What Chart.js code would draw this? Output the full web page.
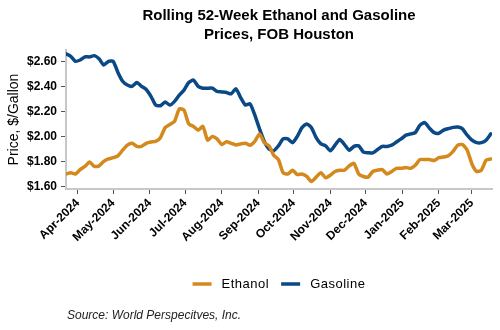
<!DOCTYPE html>
<html>
<head>
<meta charset="utf-8">
<script src="https://cdn.jsdelivr.net/npm/chart.js@4/dist/chart.umd.min.js"></script>
<style>
  body{margin:0;background:#fff}
</style>
</head>
<body>
<canvas id="chart" width="500" height="330"></canvas>
<script>
// ===== DATA =====
const startDate = "2024-03-22"
const endDate = "2025-03-18"

const dates = [
 "2024-03-22","2024-03-26","2024-03-30","2024-04-03","2024-04-07","2024-04-11","2024-04-15","2024-04-19","2024-04-23","2024-04-27",
 "2024-05-01","2024-05-05","2024-05-09","2024-05-13","2024-05-17","2024-05-21","2024-05-25","2024-05-29",
 "2024-06-02","2024-06-06","2024-06-10","2024-06-14","2024-06-18","2024-06-22","2024-06-26","2024-06-30",
 "2024-07-04","2024-07-08","2024-07-12","2024-07-16","2024-07-20","2024-07-24","2024-07-28",
 "2024-08-01","2024-08-05","2024-08-09","2024-08-13","2024-08-17","2024-08-21","2024-08-25","2024-08-29",
 "2024-09-02","2024-09-06","2024-09-10","2024-09-14","2024-09-18","2024-09-22","2024-09-26","2024-09-30",
 "2024-10-04","2024-10-08","2024-10-12","2024-10-16","2024-10-20","2024-10-24","2024-10-28",
 "2024-11-01","2024-11-05","2024-11-09","2024-11-13","2024-11-17","2024-11-21","2024-11-25","2024-11-29",
 "2024-12-03","2024-12-07","2024-12-11","2024-12-15","2024-12-19","2024-12-23","2024-12-27","2024-12-31",
 "2025-01-04","2025-01-08","2025-01-12","2025-01-16","2025-01-20","2025-01-24","2025-01-28",
 "2025-02-01","2025-02-05","2025-02-09","2025-02-13","2025-02-17","2025-02-21","2025-02-25",
 "2025-03-01","2025-03-05","2025-03-09","2025-03-13","2025-03-17"
]

const ethanol = [
 1.70,1.71,1.70,1.735,1.76,1.795,1.76,1.765,1.80,1.82,
 1.83,1.845,1.89,1.93,1.945,1.92,1.92,1.945,
 1.955,1.96,1.99,2.07,2.095,2.12,2.22,2.21,
 2.10,2.08,2.05,2.08,1.97,2.00,1.98,
 1.935,1.958,1.945,1.932,1.94,1.945,1.93,1.96,
 2.02,1.95,1.925,1.85,1.815,1.71,1.70,1.73,
 1.695,1.70,1.68,1.64,1.675,1.71,1.67,
 1.69,1.72,1.73,1.73,1.765,1.785,1.70,1.68,
 1.675,1.72,1.73,1.735,1.70,1.72,1.745,1.745,
 1.752,1.745,1.77,1.815,1.815,1.815,1.808,
 1.83,1.835,1.845,1.88,1.93,1.935,1.89,
 1.78,1.72,1.73,1.81,1.82
]

const gasoline = [
 2.66,2.64,2.60,2.61,2.635,2.635,2.645,2.62,2.57,2.60,
 2.60,2.51,2.44,2.41,2.40,2.43,2.40,2.375,
 2.32,2.25,2.245,2.275,2.25,2.28,2.33,2.37,
 2.43,2.45,2.40,2.385,2.385,2.385,2.36,
 2.355,2.35,2.34,2.38,2.31,2.25,2.26,2.17,
 2.06,1.96,1.90,1.885,1.925,1.98,1.98,1.95,
 2.00,2.07,2.10,2.07,1.99,1.94,1.925,
 1.885,1.93,1.975,1.935,1.89,1.92,1.925,1.875,
 1.87,1.868,1.895,1.92,1.92,1.93,1.955,1.98,
 2.01,2.02,2.03,2.09,2.11,2.065,2.03,
 2.025,2.05,2.062,2.072,2.075,2.06,2.01,
 1.97,1.95,1.95,1.97,2.02
]

const monthTicks = ["2024-04-01","2024-05-01","2024-06-01","2024-07-01","2024-08-01","2024-09-01",
 "2024-10-01","2024-11-01","2024-12-01","2025-01-01","2025-02-01","2025-03-01"]
const monthLabels = ["Apr-2024","May-2024","Jun-2024","Jul-2024","Aug-2024","Sep-2024",
 "Oct-2024","Nov-2024","Dec-2024","Jan-2025","Feb-2025","Mar-2025"]
const yTicks = [1.6,1.8,2.0,2.2,2.4,2.6]

const titleLines = ["Rolling 52-Week Ethanol and Gasoline","Prices, FOB Houston"]
const sourceText = "Source: World Perspecitves, Inc."

const ETH_COLOR = "#D4891C"
const GAS_COLOR = "#0B4886"
const FONT = '"Liberation Sans", Arial, sans-serif'

function dayOf(s){
  return (Date.parse(s) - Date.parse(startDate)) / 86400000
}

// ===== TITLE / LEGEND / SOURCE =====
const extras = {
  id:"extras",
  afterDraw(chart){
    let ctx = chart.ctx
    let a = chart.chartArea
    let cx = (a.left + a.right) / 2
    ctx.save()
    ctx.fillStyle = "#000"
    ctx.textAlign = "center"
    ctx.textBaseline = "middle"
    ctx.font = "bold 15px " + FONT
    ctx.fillText(titleLines[0], cx, 16)
    ctx.fillText(titleLines[1], cx, 35)

    // legend
    ctx.font = "13px " + FONT
    ctx.letterSpacing = "0.5px"
    let items = [["Ethanol", ETH_COLOR], ["Gasoline", GAS_COLOR]]
    let lineW = 19, gap = 10, between = 12
    let total = 0
    items.forEach(function(it, i){
      total += lineW + gap + ctx.measureText(it[0]).width + (i < items.length - 1 ? between : 0)
    })
    let x = cx - total / 2
    let y = 284
    ctx.textAlign = "left"
    items.forEach(function(it){
      ctx.strokeStyle = it[1]
      ctx.lineWidth = 3.5
      ctx.beginPath()
      ctx.moveTo(x, y); ctx.lineTo(x + lineW, y)
      ctx.stroke()
      x += lineW + gap
      ctx.fillStyle = "#000"
      ctx.fillText(it[0], x, y)
      x += ctx.measureText(it[0]).width + between
    })
    ctx.letterSpacing = "0px"

    // source
    ctx.font = "italic 12px " + FONT
    ctx.fillStyle = "#222"
    ctx.fillText(sourceText, a.left + 1, 316)
    ctx.restore()
  }
}

// ===== CHART =====
let ctx = document.getElementById("chart")

let chart = new Chart(ctx, {
  type:"line",
  data:{
    datasets:[
      {
        label:"Ethanol",
        data: dates.map((d,i) => ({x: dayOf(d), y: ethanol[i]})),
        borderColor: ETH_COLOR,
        borderWidth: 3.5,
        pointRadius: 0,
        tension: 0.2,
        borderJoinStyle: "round",
        borderCapStyle: "round",
        fill:false
      },
      {
        label:"Gasoline",
        data: dates.map((d,i) => ({x: dayOf(d), y: gasoline[i]})),
        borderColor: GAS_COLOR,
        borderWidth: 3.5,
        pointRadius: 0,
        tension: 0.2,
        borderJoinStyle: "round",
        borderCapStyle: "round",
        fill:false
      }
    ]
  },
  options:{
    responsive:false,
    animation:false,
    layout:{ padding:{ top:50, left:5, right:8, bottom:0 } },
    plugins:{
      legend:{ display:false },
      tooltip:{ enabled:false }
    },
    scales:{
      x:{
        type:"linear",
        min: 0,
        max: dayOf(endDate),
        afterBuildTicks: function(axis){
          axis.ticks = monthTicks.map(d => ({value: dayOf(d)}))
        },
        afterFit: function(scale){ scale.height = 141 },
        grid:{ drawOnChartArea:false, color:"#555", lineWidth:1, tickLength:5 },
        border:{ color:"#c8c8c8", width:2 },
        ticks:{
          autoSkip:false,
          maxRotation:45,
          minRotation:45,
          padding:2,
          color:"#000",
          font:{ family: FONT, size:12, weight:"bold" },
          callback: function(v, i){ return monthLabels[i] }
        }
      },
      y:{
        min: 1.58,
        max: 2.69,
        afterBuildTicks: function(axis){
          axis.ticks = yTicks.map(v => ({value: v}))
        },
        afterFit: function(scale){ scale.width = 61 },
        grid:{ drawOnChartArea:false, color:"#555", lineWidth:1, tickLength:5 },
        border:{ color:"#c8c8c8", width:2 },
        title:{
          display:true,
          text:"Price, $/Gallon",
          color:"#000",
          padding:{ top:1, bottom:0 },
          font:{ family: FONT, size:14 }
        },
        ticks:{
          padding:4,
          color:"#000",
          font:{ family: FONT, size:12, weight:"bold" },
          callback: function(v){ return "$" + v.toFixed(2) }
        }
      }
    }
  },
  plugins:[extras]
})
</script>
</body>
</html>
